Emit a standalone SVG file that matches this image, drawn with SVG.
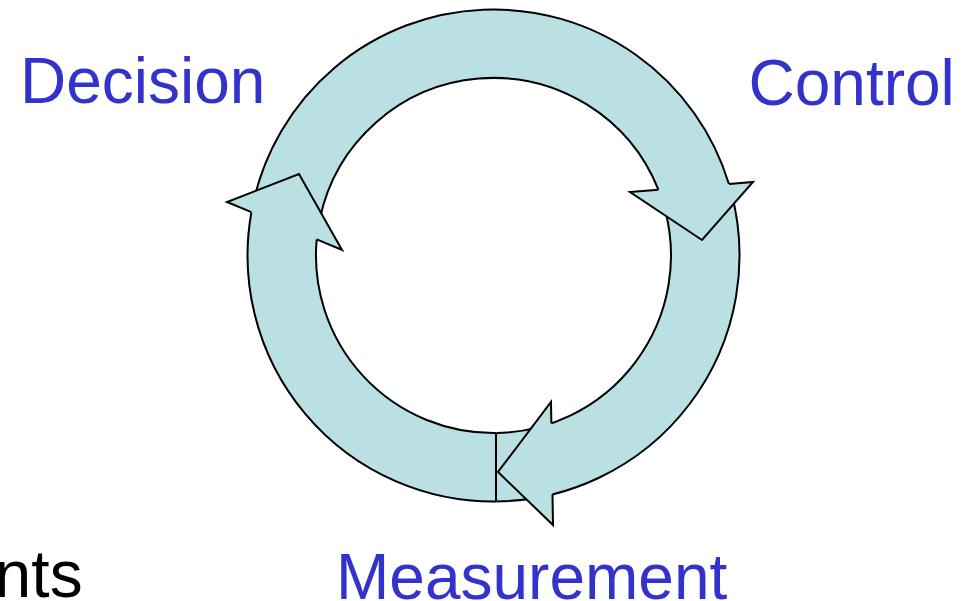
<svg xmlns="http://www.w3.org/2000/svg" width="979" height="601" viewBox="0 0 979 601">
  <style>
    .fill { fill: #BBE0E3; stroke: #BBE0E3; stroke-width: 1.5; stroke-linejoin: round; }
    .edge { fill: none; stroke: #000; stroke-width: 2; stroke-linejoin: miter; }
    .head { fill: #BBE0E3; stroke: #000; stroke-width: 2; stroke-linejoin: miter; }
    .lbl { font-family: "Liberation Sans", Arial, sans-serif; font-size: 64px; fill: #3333CC; }
    .blk { font-family: "Liberation Sans", Arial, sans-serif; font-size: 66px; fill: #000; }
  </style>
  <rect width="979" height="601" fill="#fff"/>
  <g id="connectors">
    <!-- Body A: Control to Measurement (right side to bottom) -->
    <g id="body-a">
      <path class="fill" d="M731.12 191.83 A246 246 0 0 1 496 501.49 L496 432.98 A177.5 177.5 0 0 0 664.95 209.56 Z"/>
      <path class="edge" d="M731.12 191.83 A246 246 0 0 1 496 501.49 M496 432.98 A177.5 177.5 0 0 0 664.95 209.56"/>
    </g>
    <!-- Body B: Measurement to Decision (bottom to left) -->
    <g id="body-b">
      <path class="fill" d="M496 501.49 A246 246 0 0 1 251.4 212.2 L316.7 239.4 A177.5 177.5 0 0 0 496 432.98 Z"/>
      <path class="edge" d="M496 501.49 A246 246 0 0 1 251.4 212.2 M316.7 239.4 A177.5 177.5 0 0 0 496 432.98"/>
      <line class="edge" x1="496" y1="432.98" x2="496" y2="501.49"/>
    </g>
    <!-- Body C: Decision to Control (left over top to right) -->
    <g id="body-c">
      <path class="fill" d="M252.88 204.35 A246 246 0 0 1 728.9 184 L658.4 189.7 A177.5 177.5 0 0 0 319.88 218.6 Z"/>
      <path class="edge" d="M252.88 204.35 A246 246 0 0 1 728.9 184 M658.4 189.7 A177.5 177.5 0 0 0 319.88 218.6"/>
    </g>
    <!-- Arrowheads -->
    <path id="head-a" class="head" d="M551.35 423.3 L551 402 L498 472 L553 525 L552.5 494.3"/>
    <path id="head-b" class="head" d="M316.7 239.4 L342 250 L299 174 L227 202 L251.4 212.2"/>
    <path id="head-c" class="head" d="M658.4 189.7 L630 192 L702 240 L753 182 L728.9 184"/>
  </g>
  <g id="node-decision">
    <text class="lbl" x="20" y="103">Decision</text>
  </g>
  <g id="node-control">
    <text class="lbl" x="748.5" y="105">Control</text>
  </g>
  <g id="node-measurement">
    <text class="lbl" x="336" y="599">Measurement</text>
  </g>
  <g id="fragment">
    <text class="blk" x="-5.4" y="597">nts</text>
  </g>
</svg>
